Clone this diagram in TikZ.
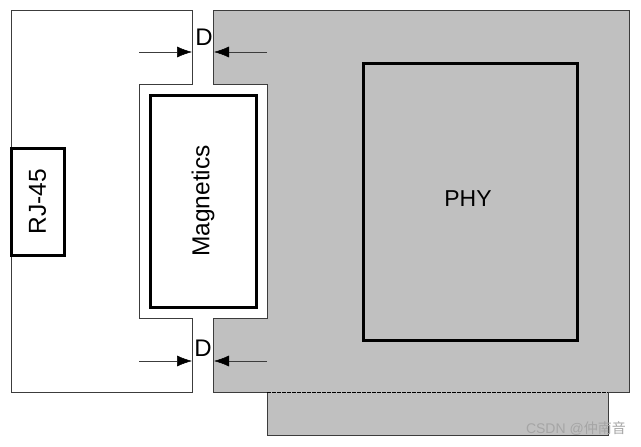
\documentclass[tikz,border=0pt]{standalone}
\usepackage{xcolor}
\usepackage{fontspec}
\setmainfont{Liberation Sans}
\newfontfamily\cjk{Noto Sans CJK SC}
\usepackage{tikz}
\usetikzlibrary{arrows.meta, positioning, calc}
\definecolor{phygrey}{RGB}{192,192,192}
\definecolor{edgegrey}{RGB}{60,60,60}
\definecolor{markgrey}{RGB}{165,165,165}

\begin{document}
\begin{tikzpicture}[x=1pt, y=-1pt,
      outline/.style={draw=edgegrey, line width=0.9pt},
      blk/.style={draw=black, line width=3pt, inner sep=0pt, outer sep=0pt, font=\fontsize{24.5}{28}\selectfont, align=center},
      gapmark/.style={inner sep=0pt, font=\fontsize{24}{27}\selectfont},
      arr/.style={-{Latex[length=15pt, width=11pt, black]}, line width=0.5pt, edgegrey},
      wmark/.style={inner sep=0pt, text=markgrey, font=\fontsize{14}{16}\selectfont}]
    \useasboundingbox (0,0) rectangle (641,447);
    % board outlines
    \fill[phygrey] (213,10) -- (629,10) -- (629,392) -- (608,392) -- (608,435) -- (267,435) -- (267,392) -- (213,392) -- (213,318) -- (267,318) -- (267,84) -- (213,84) -- cycle;
    \draw[outline] (608,392) -- (629,392) -- (629,10) -- (213,10) -- (213,84) -- (267,84) -- (267,318) -- (213,318) -- (213,392) -- (267,392) -- (267,435) -- (608,435) -- (608,392);
    \draw[black, line width=1pt, dash pattern=on 3.5pt off 1.5pt] (267,392) -- (608,392);
    \draw[outline] (11,10) -- (192,10) -- (192,84) -- (139,84) -- (139,318) -- (192,318) -- (192,392) -- (11,392) -- cycle;
    % blocks
    \node[blk, fill=white, rotate=90, minimum width=107pt, minimum height=53pt] (rj) at (37.5,201.5) {RJ-45};
    \node[blk, fill=white, rotate=90, minimum width=212pt, minimum height=106pt] (mag) at (203,201) {Magnetics};
    \node[blk, font=\fontsize{23}{27}\selectfont, minimum width=214pt, minimum height=277pt] (phy) at (470,201.5) {\hspace*{-4pt}\raisebox{5pt}{PHY}};
    % clearance marks
    \node[gapmark] (dtop) at (204,37) {D};
    \node[gapmark] (dbot) at (203,348) {D};
    \coordinate (tl) at (139,52);
    \coordinate (tle) at (192,52);
    \coordinate (tr) at (267,52);
    \coordinate (tre) at (214,52);
    \coordinate (bl) at (139,361);
    \coordinate (ble) at (192,361);
    \coordinate (br) at (267,361);
    \coordinate (bre) at (214,361);
    \draw[arr] (tl) -- (tle);
    \draw[arr] (tr) -- (tre);
    \draw[arr] (bl) -- (ble);
    \draw[arr] (br) -- (bre);
    \node[wmark, anchor=east] (csdn) at (626,429) {CSDN @{\cjk 仲南音}};
  \end{tikzpicture}
\end{document}
